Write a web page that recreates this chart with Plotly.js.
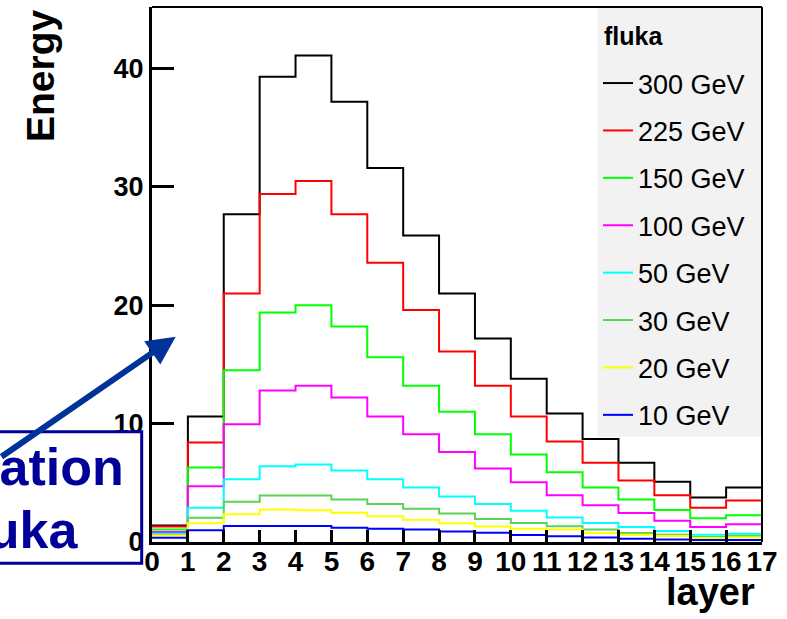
<!DOCTYPE html>
<html>
<head>
<meta charset="utf-8">
<script src="https://cdn.plot.ly/plotly-3.0.1.min.js"></script>
<style>html,body{margin:0;padding:0;background:#fff;}#chart{width:787px;height:619px;}</style>
</head>
<body>
<div id="chart"></div>
<script>
// Bin edges of the layer histogram (17 layers, 0..17)
const layerEdges = [0,1,2,3,4,5,6,7,8,9,10,11,12,13,14,15,16,17];

// Energy per layer (one value per bin)
const e300 = [1.4, 10.6, 27.7, 39.3, 41.1, 37.2, 31.6, 25.9, 21.0, 17.2, 13.8, 10.85, 8.7, 6.7, 5.1, 3.75, 4.6];
const e225 = [1.3, 8.4, 21.0, 29.4, 30.5, 27.7, 23.6, 19.6, 16.1, 13.2, 10.6, 8.5, 6.7, 5.2, 3.95, 2.9, 3.5];
const e150 = [1.05, 6.3, 14.5, 19.4, 20.0, 18.2, 15.6, 13.2, 11.0, 9.1, 7.4, 5.9, 4.6, 3.6, 2.7, 2.0, 2.25];
const e100 = [0.85, 4.7, 9.95, 12.8, 13.2, 12.2, 10.6, 9.1, 7.6, 6.2, 5.05, 3.95, 3.1, 2.45, 1.8, 1.27, 1.5];
const e50  = [0.7, 2.9, 5.3, 6.4, 6.55, 6.05, 5.3, 4.6, 3.85, 3.2, 2.65, 2.06, 1.6, 1.27, 0.93, 0.62, 0.7];
const e30  = [0.6, 2.05, 3.4, 3.92, 3.92, 3.6, 3.2, 2.8, 2.4, 1.95, 1.6, 1.33, 1.05, 0.76, 0.62, 0.42, 0.52];
const e20  = [0.55, 1.58, 2.34, 2.74, 2.68, 2.48, 2.17, 1.89, 1.58, 1.3, 1.13, 1.05, 0.76, 0.62, 0.5, 0.34, 0.37];
const e10  = [0.35, 1.0, 1.35, 1.35, 1.35, 1.21, 1.13, 1.05, 0.88, 0.79, 0.59, 0.48, 0.37, 0.28, 0.22, 0.17, 0.17];

const seriesNames = ['300 GeV','225 GeV','150 GeV','100 GeV','50 GeV','30 GeV','20 GeV','10 GeV'];
const seriesValues = [e300, e225, e150, e100, e50, e30, e20, e10];
const seriesColors = ['#000000','#ff0000','#00ff00','#ff00ff','#00ffff','#59d454','#ffff00','#0000ff'];

const FONT = '"Liberation Sans", Arial, Helvetica, sans-serif';

const traces = seriesValues.map((vals, i) => ({
  type: 'scatter',
  mode: 'lines',
  name: seriesNames[i],
  legendgroup: 'g' + i,
  x: layerEdges,
  y: vals.concat([vals[vals.length - 1]]),
  line: {shape: 'hv', color: seriesColors[i], width: 2},
  hoverinfo: 'skip'
}));

// pixel helpers for paper coordinates (plot area 152..762 x 7..542)
const L = 152, R = 25, T = 7, B = 77, W = 787, H = 619;
const PW = W - L - R, PH = H - T - B;
const px = v => (v - L) / PW;
const py = v => (H - B - v) / PH;

const layout = {
  width: W, height: H,
  margin: {l: L, r: R, t: T, b: B, pad: 0},
  paper_bgcolor: '#ffffff',
  plot_bgcolor: 'rgba(0,0,0,0)',
  font: {family: FONT, color: '#000'},
  showlegend: true,
  legend: {
    x: px(598), xanchor: 'left', y: py(59), yanchor: 'top',
    bgcolor: 'rgba(0,0,0,0)', borderwidth: 0,
    font: {family: FONT, size: 27, color: '#000'},
    traceorder: 'grouped', tracegroupgap: 9.3, itemwidth: 30
  },
  xaxis: {
    range: [0, 17], dtick: 1, tick0: 0,
    showgrid: false, zeroline: false,
    showline: true, linecolor: '#000', linewidth: 3,
    ticks: 'inside', ticklen: 12, tickwidth: 3, tickcolor: '#000',
    ticklabelstandoff: -8,
    tickfont: {family: FONT, size: 28, color: '#000', weight: 'bold'},
    fixedrange: true
  },
  yaxis: {
    range: [0, 45.2], dtick: 10, tick0: 0,
    showgrid: false, zeroline: false,
    showline: true, linecolor: '#000', linewidth: 3,
    ticks: 'inside', ticklen: 22, tickwidth: 3, tickcolor: '#000',
    tickfont: {family: FONT, size: 27, color: '#000', weight: 'bold'},
    fixedrange: true
  },
  shapes: [
    // legend background
    {type: 'rect', xref: 'paper', yref: 'paper', x0: px(597.5), x1: 1, y0: py(436.7), y1: 1,
     fillcolor: '#f2f2f2', line: {width: 0}, layer: 'below'},
    // top & right frame
    {type: 'line', xref: 'paper', yref: 'paper', x0: 0, x1: 1, y0: 1, y1: 1, line: {color: '#000', width: 2}},
    {type: 'line', xref: 'paper', yref: 'paper', x0: 1, x1: 1, y0: 0, y1: 1, line: {color: '#000', width: 2}},
    // annotation box (partly outside the canvas)
    {type: 'rect', xref: 'paper', yref: 'paper', x0: px(-300), x1: px(141.7), y0: py(563.3), y1: py(431.7),
     fillcolor: 'rgba(0,0,0,0)', line: {color: '#000099', width: 3}}
  ],
  annotations: [
    {xref: 'paper', yref: 'paper', x: px(602), y: py(36), text: '<b>fluka</b>',
     showarrow: false, xanchor: 'left', yanchor: 'middle', font: {family: FONT, size: 25, color: '#000'}},
    {xref: 'paper', yref: 'paper', x: px(40), y: py(76), text: '<b>Energy</b>', textangle: -90,
     showarrow: false, xanchor: 'center', yanchor: 'middle', font: {family: FONT, size: 39, color: '#000'}},
    {xref: 'paper', yref: 'paper', x: px(757), y: py(592), text: '<b>layer</b>',
     showarrow: false, xanchor: 'right', yanchor: 'middle', font: {family: FONT, size: 38, color: '#000'}},
    {xref: 'paper', yref: 'paper', x: px(126), y: py(467), text: '<b>Simulation</b>',
     showarrow: false, xanchor: 'right', yanchor: 'middle', font: {family: FONT, size: 52, color: '#000099'}},
    {xref: 'paper', yref: 'paper', x: px(80), y: py(530), text: '<b>fluka</b>',
     showarrow: false, xanchor: 'right', yanchor: 'middle', font: {family: FONT, size: 52, color: '#000099'}},
    {xref: 'paper', yref: 'paper', x: px(175.7), y: py(336.7), text: '', ax: -215, ay: 121,
     showarrow: true, arrowhead: 2, arrowsize: 0.95, arrowwidth: 6, arrowcolor: '#003399'}
  ]
};

Plotly.newPlot('chart', traces, layout, {staticPlot: true, displayModeBar: false});
</script>
</body>
</html>
